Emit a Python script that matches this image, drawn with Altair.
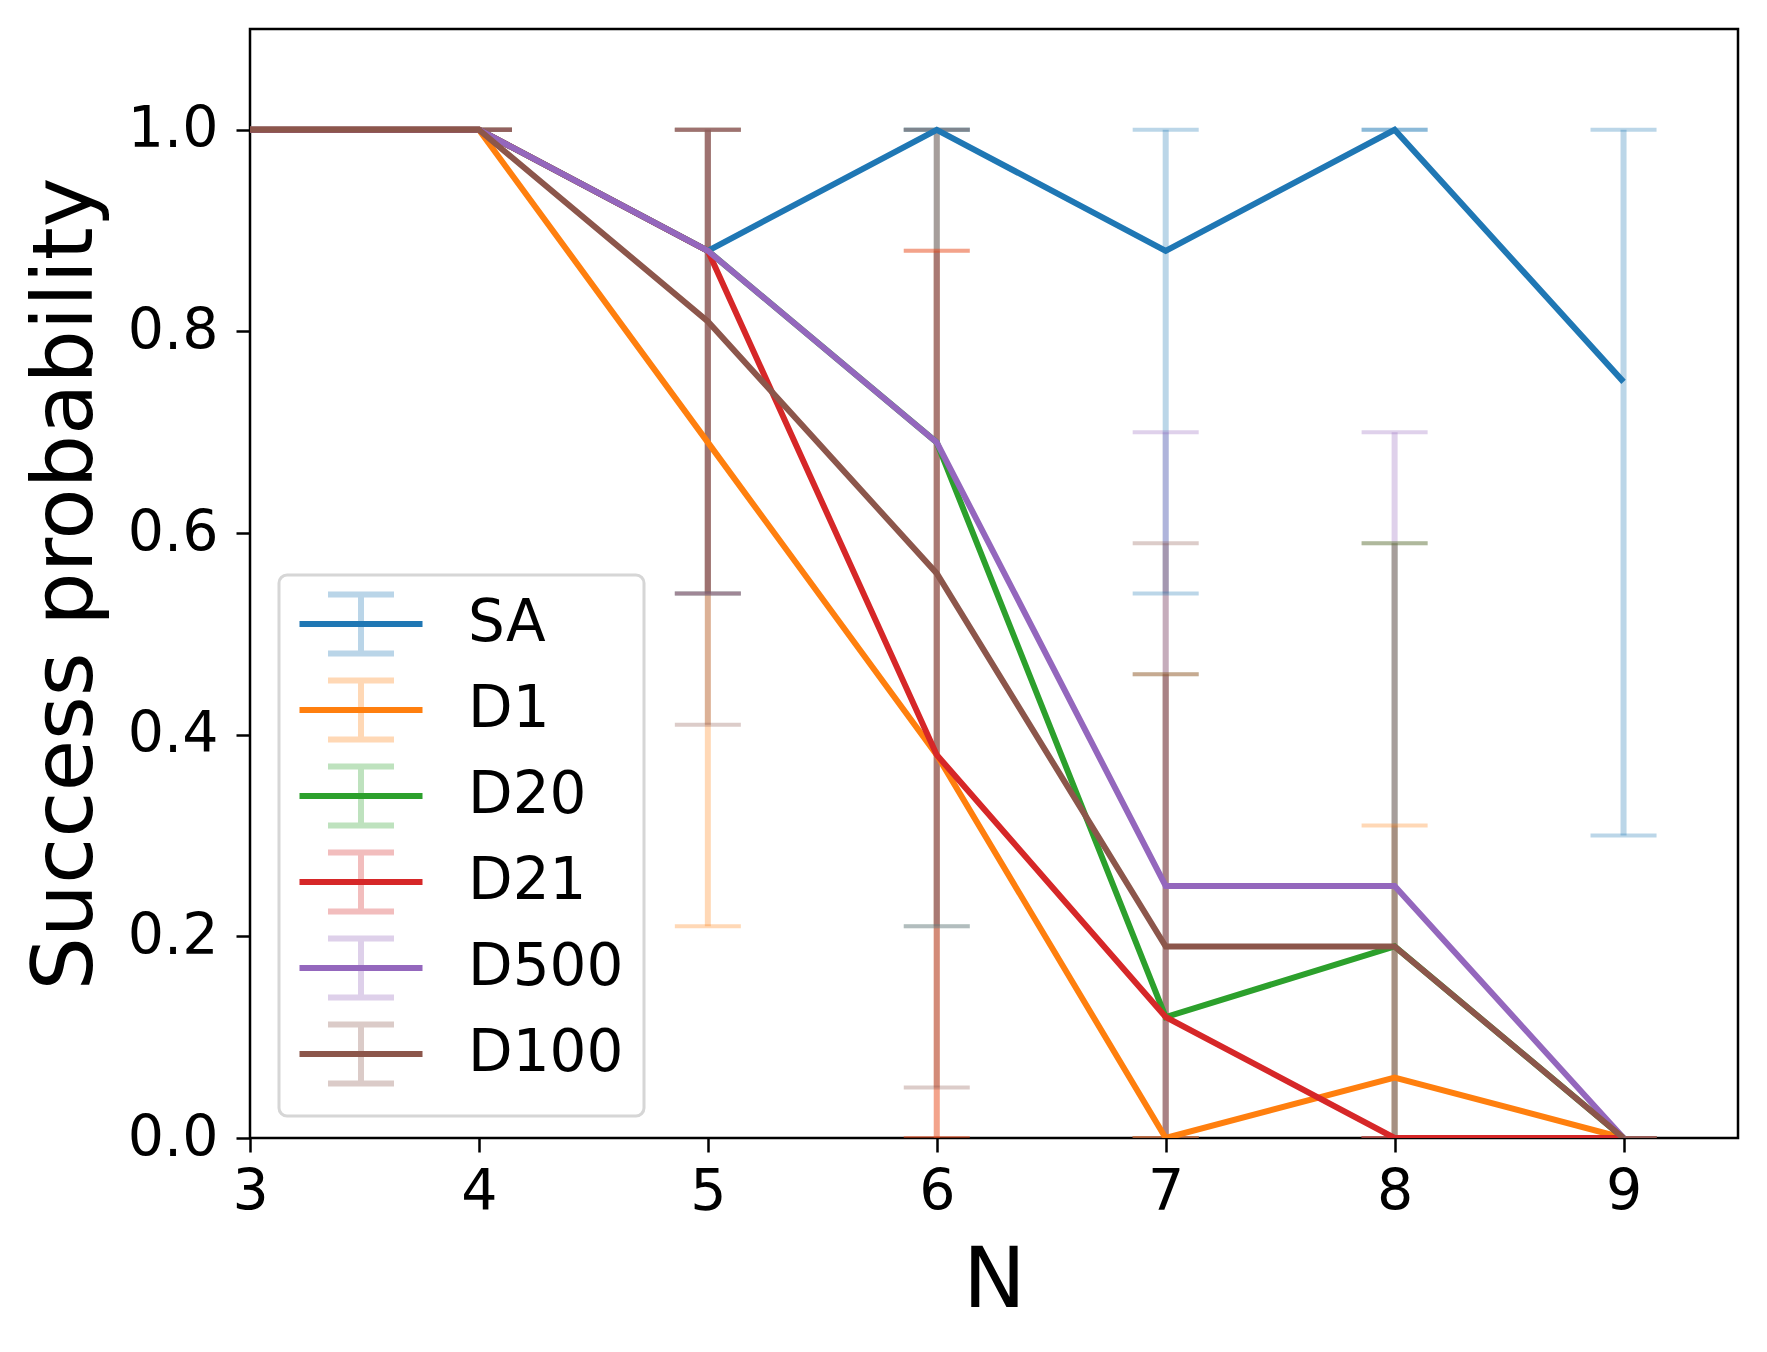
import altair as alt
import pandas as pd

N_VALUES = [3, 4, 5, 6, 7, 8, 9]
Y_TICKS = [0.0, 0.2, 0.4, 0.6, 0.8, 1.0]
SERIES = ["SA", "D1", "D20", "D21", "D500", "D100"]
COLORS = ["#1f77b4", "#ff7f0e", "#2ca02c", "#d62728", "#9467bd", "#8c564b"]

# mean success probability per N
SA = [1.0, 1.0, 0.88, 1.0, 0.88, 1.0, 0.75]
D1 = [1.0, 1.0, 0.69, 0.38, 0.0, 0.06, 0.0]
D20 = [1.0, 1.0, 0.88, 0.69, 0.12, 0.19, 0.0]
D21 = [1.0, 1.0, 0.88, 0.38, 0.12, 0.0, 0.0]
D500 = [1.0, 1.0, 0.88, 0.69, 0.25, 0.25, 0.0]
D100 = [1.0, 1.0, 0.81, 0.56, 0.19, 0.19, 0.0]

# error bar lower / upper ends per N
SA_LO = [1.0, 1.0, 0.54, 1.0, 0.54, 1.0, 0.30]
SA_HI = [1.0, 1.0, 1.0, 1.0, 1.0, 1.0, 1.0]
D1_LO = [1.0, 1.0, 0.21, 0.0, 0.0, 0.0, 0.0]
D1_HI = [1.0, 1.0, 1.0, 0.88, 0.0, 0.31, 0.0]
D20_LO = [1.0, 1.0, 0.54, 0.21, 0.0, 0.0, 0.0]
D20_HI = [1.0, 1.0, 1.0, 1.0, 0.46, 0.59, 0.0]
D21_LO = [1.0, 1.0, 0.54, 0.0, 0.0, 0.0, 0.0]
D21_HI = [1.0, 1.0, 1.0, 0.88, 0.46, 0.0, 0.0]
D500_LO = [1.0, 1.0, 0.54, 0.21, 0.0, 0.0, 0.0]
D500_HI = [1.0, 1.0, 1.0, 1.0, 0.70, 0.70, 0.0]
D100_LO = [1.0, 1.0, 0.41, 0.05, 0.0, 0.0, 0.0]
D100_HI = [1.0, 1.0, 1.0, 1.0, 0.59, 0.59, 0.0]

means = [SA, D1, D20, D21, D500, D100]
lows = [SA_LO, D1_LO, D20_LO, D21_LO, D500_LO, D100_LO]
highs = [SA_HI, D1_HI, D20_HI, D21_HI, D500_HI, D100_HI]

# error-bar series get their own keys so their legend stays separate
EB_KEYS = ["eb_" + s for s in SERIES]

line_rows, eb_rows = [], []
for name, key, m, lo, hi in zip(SERIES, EB_KEYS, means, lows, highs):
    for i, n in enumerate(N_VALUES):
        line_rows.append({"N": n, "series": name, "value": m[i]})
        eb_rows.append({"N": n, "series_eb": key, "lo": lo[i], "hi": hi[i]})
line_df = pd.DataFrame(line_rows)
eb_df = pd.DataFrame(eb_rows)

FONT = "DejaVu Sans"

x_axis = alt.Axis(
    values=N_VALUES, format="d", grid=False, domain=False,
    tickSize=14, tickWidth=2.5, tickColor="black",
    labelFont=FONT, labelFontSize=57, labelColor="black", labelPadding=12,
    labelFlush=False, labelOverlap=False,
    titleFont=FONT, titleFontSize=84, titleFontWeight="normal", titleColor="black",
    titleX=744, titleY=168, titleAlign="center", titleBaseline="alphabetic",
)
y_axis = alt.Axis(
    values=Y_TICKS, format=".1f", grid=False, domain=False,
    tickSize=14, tickWidth=2.5, tickColor="black",
    labelFont=FONT, labelFontSize=57, labelColor="black", labelPadding=18,
    labelFlush=False, labelOverlap=False,
    titleFont=FONT, titleFontSize=84, titleFontWeight="normal", titleColor="black",
    titleX=-159, titleY=554.5, titleAngle=270, titleAlign="center",
    titleBaseline="alphabetic",
)
x_scale = alt.Scale(domain=[3, 9.5], nice=False, zero=False)
y_scale = alt.Scale(domain=[0, 1.1], nice=False, zero=False)
line_scale = alt.Scale(domain=SERIES, range=COLORS)
eb_scale = alt.Scale(domain=EB_KEYS, range=COLORS)

LINE_PATH = "M0,-1.475M0,1.475M-3.075,0H3.075"
EB_PATH = ("M-3.075,0M3.075,0M0,-1.475V1.475"
           "M-1.65,-1.475H1.65M-1.65,1.475H1.65")

common = dict(
    orient="none", legendX=29, legendY=546, padding=20, title=None,
    symbolSize=1600, symbolStrokeWidth=6, symbolOffset=33, labelOffset=78,
    labelFont=FONT, labelFontSize=58, labelColor="black", rowPadding=2,
    symbolFillColor="transparent",
)
eb_legend = alt.Legend(symbolType=EB_PATH, symbolOpacity=0.3, labelOpacity=0,
                       labelExpr="''", **common)
line_legend = alt.Legend(symbolType=LINE_PATH, strokeColor="#d6d6d6",
                         cornerRadius=8, **common)

X = alt.X("N:Q", scale=x_scale, axis=x_axis, title="N")
Y_TITLE = "Success probability"

bars = alt.Chart(eb_df).mark_rule(opacity=0.3, strokeWidth=6, clip=True).encode(
    x=X,
    y=alt.Y("lo:Q", scale=y_scale, axis=y_axis, title=Y_TITLE),
    y2="hi:Q",
    color=alt.Color("series_eb:N", scale=eb_scale, legend=eb_legend),
)
cap_lo = alt.Chart(eb_df).mark_rule(
    opacity=0.3, strokeWidth=4, xOffset=-33, x2Offset=33, clip=True
).encode(
    x=X, x2="N:Q",
    y=alt.Y("lo:Q", scale=y_scale, axis=y_axis, title=Y_TITLE),
    color=alt.Color("series_eb:N", scale=eb_scale, legend=eb_legend),
)
cap_hi = alt.Chart(eb_df).mark_rule(
    opacity=0.3, strokeWidth=4, xOffset=-33, x2Offset=33, clip=True
).encode(
    x=X, x2="N:Q",
    y=alt.Y("hi:Q", scale=y_scale, axis=y_axis, title=Y_TITLE),
    color=alt.Color("series_eb:N", scale=eb_scale, legend=eb_legend),
)
lines = alt.Chart(line_df).mark_line(strokeWidth=6, clip=True).encode(
    x=X,
    y=alt.Y("value:Q", scale=y_scale, axis=y_axis, title=Y_TITLE),
    stroke=alt.Stroke("series:N", scale=line_scale, legend=line_legend),
)

chart = (
    alt.layer(bars, cap_lo, cap_hi, lines)
    .properties(
        width=1488, height=1109,
        autosize=alt.AutoSizeParams(type="none"),
        padding={"left": 242, "top": 21, "right": 21, "bottom": 206},
        background="white",
    )
    .configure_view(stroke="black", strokeWidth=2.5)
    .configure_legend(strokeWidth=3)
)

chart.save("out.html", embed_options={"renderer": "svg", "actions": False})
